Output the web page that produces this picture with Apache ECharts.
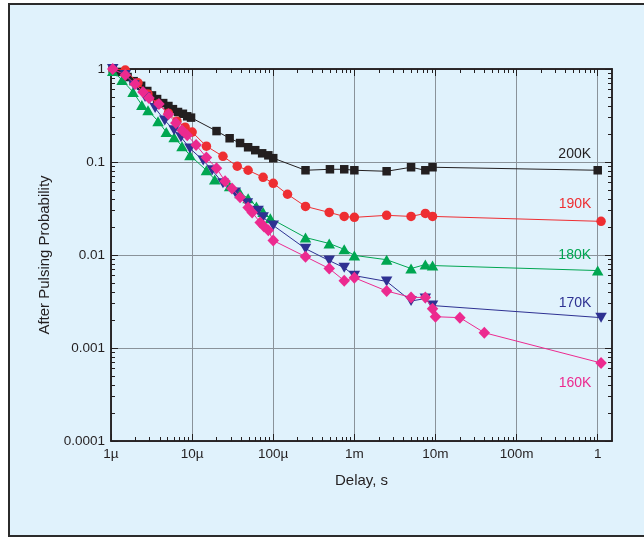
<!DOCTYPE html>
<html>
<head>
<meta charset="utf-8">
<script src="https://cdn.jsdelivr.net/npm/echarts@6/dist/echarts.min.js"></script>
<style>
  html, body { margin: 0; padding: 0; background: #ffffff; overflow: hidden; width: 644px; height: 539px; }
  #frame { position: absolute; left: 8px; top: 3px; width: 720px; height: 530px;
           border: 2.5px solid #2b2b2b; background: #e0f2fc; }
  #chart { position: absolute; left: 0; top: 0; width: 644px; height: 539px; }
</style>
</head>
<body>
<div id="frame"></div>
<div id="chart"></div>
<script>
// Afterpulsing probability vs. delay at five temperatures
const seriesNames = ['200K', '190K', '180K', '170K', '160K'];

const delay200 = [1.05e-6, 1.3e-6, 1.6e-6, 1.9e-6, 2.35e-6, 2.8e-6, 3.2e-6, 3.7e-6, 4.4e-6, 5.1e-6, 5.8e-6, 6.7e-6, 7.7e-6, 8.7e-6, 9.7e-6,
  2.0e-5, 2.9e-5, 3.9e-5, 4.9e-5, 6.0e-5, 7.3e-5, 8.7e-5, 1.0e-4, 2.5e-4, 5.0e-4, 7.5e-4, 1.0e-3, 2.5e-3, 5.0e-3, 7.5e-3, 9.2e-3, 1.0];
const prob200 = [1.0, 0.93, 0.82, 0.74, 0.66, 0.58, 0.52, 0.475, 0.43, 0.40, 0.37, 0.345, 0.33, 0.31, 0.30,
  0.215, 0.18, 0.16, 0.144, 0.134, 0.124, 0.118, 0.11, 0.0815, 0.0835, 0.0835, 0.0815, 0.0795, 0.0878, 0.0815, 0.0878, 0.0815];

const delay190 = [1.05e-6, 1.5e-6, 2.15e-6, 2.85e-6, 3.8e-6, 5.1e-6, 6.5e-6, 8.2e-6, 1.0e-5, 1.5e-5, 2.4e-5, 3.6e-5, 4.9e-5, 7.5e-5, 1.0e-4,
  1.5e-4, 2.5e-4, 4.9e-4, 7.5e-4, 1.0e-3, 2.5e-3, 5.0e-3, 7.5e-3, 9.2e-3, 1.1];
const prob190 = [1.0, 0.975, 0.71, 0.54, 0.42, 0.335, 0.275, 0.237, 0.21, 0.148, 0.115, 0.09, 0.0815, 0.0685, 0.059,
  0.045, 0.0333, 0.0287, 0.026, 0.0254, 0.0267, 0.026, 0.028, 0.026, 0.023];

const delay180 = [1.05e-6, 1.37e-6, 1.87e-6, 2.4e-6, 2.86e-6, 3.8e-6, 4.8e-6, 6.0e-6, 7.5e-6, 9.4e-6, 1.5e-5, 1.9e-5, 2.9e-5, 3.9e-5, 4.9e-5,
  6.2e-5, 7.5e-5, 9.2e-5, 2.5e-4, 4.9e-4, 7.5e-4, 1.0e-3, 2.5e-3, 5.0e-3, 7.5e-3, 9.2e-3, 1.0];
const prob180 = [0.95, 0.76, 0.565, 0.41, 0.36, 0.275, 0.21, 0.185, 0.148, 0.118, 0.0815, 0.065, 0.0548, 0.046, 0.0407,
  0.0333, 0.029, 0.0248, 0.0154, 0.0133, 0.0115, 0.0099, 0.0089, 0.00715, 0.0079, 0.0077, 0.0068];

const delay170 = [1.05e-6, 1.5e-6, 1.92e-6, 2.63e-6, 3.5e-6, 4.6e-6, 6.0e-6, 7.3e-6, 9.4e-6, 1.37e-5, 1.77e-5, 2.4e-5, 3.4e-5, 4.8e-5, 6.5e-5,
  7.5e-5, 1.0e-4, 2.5e-4, 4.9e-4, 7.5e-4, 1.0e-3, 2.5e-3, 5.0e-3, 7.5e-3, 9.2e-3, 1.1];
const prob170 = [1.0, 0.86, 0.67, 0.50, 0.38, 0.28, 0.22, 0.185, 0.14, 0.104, 0.0815, 0.059, 0.047, 0.036, 0.030,
  0.0254, 0.0208, 0.0117, 0.0087, 0.0073, 0.006, 0.0052, 0.0032, 0.0034, 0.00286, 0.00212];

const delay160 = [1.05e-6, 1.5e-6, 1.98e-6, 2.48e-6, 2.94e-6, 3.9e-6, 5.1e-6, 6.3e-6, 7.5e-6, 8.7e-6, 1.12e-5, 1.5e-5, 2.0e-5, 2.55e-5, 3.1e-5,
  3.9e-5, 4.9e-5, 5.5e-5, 6.9e-5, 7.7e-5, 8.7e-5, 1.0e-4, 2.5e-4, 4.9e-4, 7.5e-4, 1.0e-3, 2.5e-3, 5.0e-3, 7.5e-3, 9.2e-3,
  1.0e-2, 2.0e-2, 4.0e-2, 1.1];
const prob160 = [1.0, 0.86, 0.69, 0.565, 0.487, 0.42, 0.327, 0.262, 0.22, 0.194, 0.152, 0.112, 0.0857, 0.062, 0.052,
  0.0417, 0.0325, 0.0287, 0.0224, 0.0203, 0.0184, 0.0143, 0.0096, 0.00715, 0.0053, 0.0057, 0.0041, 0.0035, 0.0035, 0.00265,
  0.00217, 0.00212, 0.00146, 0.00069];

// Axis ticks and their labels
const xMajorTicks = [1e-6, 1e-5, 1e-4, 1e-3, 1e-2, 1e-1, 1];
const xTickLabels = ['1µ', '10µ', '100µ', '1m', '10m', '100m', '1'];
const yMajorTicks = [1e-4, 1e-3, 1e-2, 1e-1, 1];
const yTickLabels = ['0.0001', '0.001', '0.01', '0.1', '1'];

const X_MIN = 1e-6, X_MAX = 1.5, Y_MIN = 1e-4, Y_MAX = 1;

function minorTicks(lo, hi) {
  const out = [];
  for (let e = Math.floor(Math.log10(lo)); e <= Math.ceil(Math.log10(hi)); e++) {
    for (let k = 2; k <= 9; k++) {
      const v = k * Math.pow(10, e);
      if (v > lo && v < hi) out.push(v);
    }
  }
  return out;
}

function labelFor(ticks, labels) {
  return function (v) {
    const e = Math.round(Math.log10(v));
    for (let i = 0; i < ticks.length; i++) {
      if (Math.round(Math.log10(ticks[i])) === e) return labels[i];
    }
    return '';
  };
}

const INK = '#231f20';
const FONT = '"Liberation Sans", Arial, Helvetica, sans-serif';

function logAxis(dim, position, opts) {
  const isX = dim === 'x';
  return Object.assign({
    type: 'log',
    logBase: 10,
    position: position,
    min: isX ? X_MIN : Y_MIN,
    max: isX ? X_MAX : Y_MAX,
    splitNumber: isX ? 6 : 4,
    axisLine: { show: true, onZero: false, lineStyle: { color: INK, width: 1.5 } },
    axisTick: { show: false },
    axisLabel: { show: false },
    splitLine: { show: false },
    minorTick: { show: false },
    minorSplitLine: { show: false }
  }, opts);
}

function tickAxis(dim, position, values, len) {
  return logAxis(dim, position, {
    axisTick: { show: true, inside: true, length: len, customValues: values, lineStyle: { color: INK, width: 1 } }
  });
}

const xMinor = minorTicks(X_MIN, X_MAX);
const yMinor = minorTicks(Y_MIN, Y_MAX);

const xAxes = [
  logAxis('x', 'bottom', {
    axisTick: { show: true, inside: true, length: 7, customValues: xMajorTicks, lineStyle: { color: INK, width: 1 } },
    axisLabel: { show: true, customValues: xMajorTicks, formatter: labelFor(xMajorTicks, xTickLabels),
                 color: '#231f20', fontSize: 13.5, fontFamily: FONT, margin: 6 },
    splitLine: { show: true, lineStyle: { color: '#8a939a', width: 1 } },
    name: 'Delay, s', nameLocation: 'middle', nameGap: 32,
    nameTextStyle: { color: '#231f20', fontSize: 15, fontFamily: FONT }
  }),
  tickAxis('x', 'bottom', xMinor, 4),
  tickAxis('x', 'top', xMajorTicks, 7),
  tickAxis('x', 'top', xMinor, 4)
];

const yAxes = [
  logAxis('y', 'left', {
    axisTick: { show: true, inside: true, length: 7, customValues: yMajorTicks, lineStyle: { color: INK, width: 1 } },
    axisLabel: { show: true, customValues: yMajorTicks, formatter: labelFor(yMajorTicks, yTickLabels),
                 color: '#231f20', fontSize: 13.5, fontFamily: FONT, margin: 6 },
    splitLine: { show: true, lineStyle: { color: '#8a939a', width: 1 } },
    name: 'After Pulsing Probability', nameLocation: 'middle', nameGap: 59, nameRotate: 90,
    nameTextStyle: { color: '#231f20', fontSize: 15, fontFamily: FONT }
  }),
  tickAxis('y', 'left', yMinor, 4),
  tickAxis('y', 'right', yMajorTicks, 7),
  tickAxis('y', 'right', yMinor, 4)
];

const seriesStyle = [
  { color: '#231f20', symbol: 'rect', size: [8.5, 8.5], rotate: 0, labelPos: 'top', offset: [-23, 0] },
  { color: '#ee2e32', symbol: 'circle', size: 9.5, rotate: 0, labelPos: 'top', offset: [-26, 0] },
  { color: '#00a651', symbol: 'triangle', size: [11.5, 10], rotate: 0, labelPos: 'top', offset: [-23, 2] },
  { color: '#2e3192', symbol: 'triangle', size: [11.5, 10], rotate: 180, labelPos: 'top', offset: [-26, 2] },
  { color: '#ec2a8f', symbol: 'diamond', size: [11.5, 12], rotate: 0, labelPos: 'bottom', offset: [-26, 2] }
];

const delays = [delay200, delay190, delay180, delay170, delay160];
const probs = [prob200, prob190, prob180, prob170, prob160];

const series = seriesNames.map(function (name, s) {
  const st = seriesStyle[s];
  const data = delays[s].map(function (t, i) {
    const item = { value: [t, probs[s][i]] };
    if (i === delays[s].length - 1) {
      item.label = {
        show: true, position: st.labelPos, offset: st.offset, distance: 5,
        formatter: name, color: st.color, fontSize: 14, fontFamily: FONT
      };
    }
    return item;
  });
  return {
    name: name,
    type: 'line',
    xAxisIndex: 0,
    yAxisIndex: 0,
    data: data,
    symbol: st.symbol,
    symbolSize: st.size,
    symbolRotate: st.rotate,
    showAllSymbol: true,
    itemStyle: { color: st.color, borderWidth: 0 },
    lineStyle: { color: st.color, width: 1 },
    emphasis: { disabled: true },
    animation: false,
    z: 3 + s
  };
});

const chart = echarts.init(document.getElementById('chart'), null, { renderer: 'canvas' });
chart.setOption({
  backgroundColor: 'transparent',
  animation: false,
  grid: { left: 111, right: 32, top: 69, bottom: 98, containLabel: false },
  xAxis: xAxes,
  yAxis: yAxes,
  series: series
});
</script>
</body>
</html>
